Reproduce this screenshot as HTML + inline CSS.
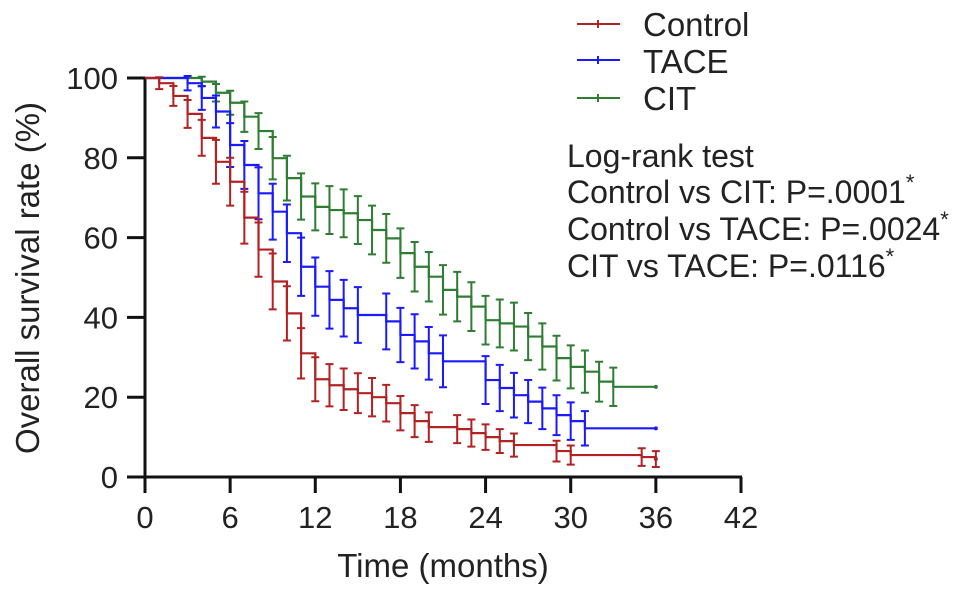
<!DOCTYPE html>
<html><head><meta charset="utf-8"><style>
html,body{margin:0;padding:0;background:#fff;}
svg{display:block;font-family:"Liberation Sans",Arial,sans-serif;}
</style></head><body>
<svg id="chart" width="969" height="595" viewBox="0 0 969 595">
<g id="axes"></g>
<g id="series"></g>
<g>
  <g>
    <line x1="577" y1="24" x2="620" y2="24" stroke="#b22222" stroke-width="2"/>
    <line x1="598" y1="20" x2="598" y2="28" stroke="#b22222" stroke-width="2"/>
    <text x="643" y="36" font-size="33" fill="#222">Control</text>
  </g>
  <g>
    <line x1="577" y1="60" x2="620" y2="60" stroke="#1a1aff" stroke-width="2"/>
    <line x1="598" y1="56" x2="598" y2="64" stroke="#1a1aff" stroke-width="2"/>
    <text x="643" y="73" font-size="33" fill="#222">TACE</text>
  </g>
  <g>
    <line x1="577" y1="98" x2="620" y2="98" stroke="#2e7d32" stroke-width="2"/>
    <line x1="598" y1="94" x2="598" y2="102" stroke="#2e7d32" stroke-width="2"/>
    <text x="643" y="110" font-size="33" fill="#222">CIT</text>
  </g>
</g>
<g font-size="32" fill="#222">
  <text x="567" y="167">Log-rank test</text>
  <text x="567" y="203">Control vs CIT: P=.0001<tspan font-size="22" dy="-13">*</tspan></text>
  <text x="567" y="240">Control vs TACE: P=.0024<tspan font-size="22" dy="-13">*</tspan></text>
  <text x="567" y="277">CIT vs TACE: P=.0116<tspan font-size="22" dy="-13">*</tspan></text>
</g>
</svg>
<script>
const xTicks = [0,6,12,18,24,30,36,42];
const yTicks = [0,20,40,60,80,100];
const controlTimes = [0,1,2,3,4,5,6,7,8,9,10,11,12,13,14,15,16,17,18,19,20,22,23,24,25,26,29,30,35,36];
const controlValues = [100,98.7,95.5,91,85,79,74,65,57,49,41,31,24.5,23,22,21,20,18.5,16,14,12.5,12,11,10,9,8,6.5,5.5,5,4.5];
const controlErr = [0,1.5,2.5,3.5,4.5,5.5,6,6.5,6.8,7,6.8,6.3,5.5,5.3,5.2,5,4.8,4.6,4.3,4,3.7,3.5,3.4,3.2,3,2.9,2.6,2.4,2.2,2];
const taceTimes = [0,3,4,5,6,7,8,9,10,11,12,13,14,15,17,18,19,20,21,24,25,26,27,28,29,30,31];
const taceValues = [100,98.7,95,91.6,83.2,78.2,71.1,66.5,61.1,52.7,47.7,44.4,42.3,40.6,39,35.6,34,31,29,24.3,22.3,20.5,18.9,17.2,15.5,14,12.2];
const taceErr = [0,1.8,3,4,5.5,6,6.5,7,7.2,7.3,7.3,7.2,7.1,7,7,6.8,6.8,6.6,6.5,6,5.8,5.6,5.4,5.2,5,4.7,4.3];
const citTimes = [0,4,5,6,7,8,9,10,11,12,13,14,15,16,17,18,19,20,21,22,23,24,25,26,27,28,29,30,31,32,33,36];
const citValues = [100,99.1,96.3,93.8,90.3,86.7,79.9,74.9,70.3,67.7,66.9,66.1,64.4,61.9,59.8,56.1,52.7,50.2,46.9,45.2,42.7,39.3,38.5,37.7,35.2,32.7,29.8,27.6,26.4,23.9,22.6,22.6];
const citErr = [0,1.2,2.2,3,3.8,4.5,5.3,5.6,5.8,5.9,6,6,6,6.1,6.1,6.2,6.2,6.2,6.2,6.2,6.1,6.1,6,6,5.9,5.8,5.6,5.4,5.3,5,4.8,0];

const X0=145, X1=741, Y0=477, Y1=78;
const xs = t => X0 + (t/42)*(X1-X0);
const ys = v => Y0 - (v/100)*(Y0-Y1);
const NS="http://www.w3.org/2000/svg";
function mk(tag, attrs, parent){const e=document.createElementNS(NS,tag);for(const k in attrs)e.setAttribute(k,attrs[k]);parent.appendChild(e);return e;}

const axes=document.getElementById('axes');
let yl=mk('line',{x1:X0,y1:Y1-1,x2:X0,y2:Y0+1,stroke:'#111','stroke-width':3},axes);


let xl=mk('line',{x1:X0-1,y1:Y0,x2:X1+1,y2:Y0,stroke:'#111','stroke-width':3},axes);


yTicks.forEach(v=>{
  mk('line',{x1:X0-18,y1:ys(v),x2:X0,y2:ys(v),stroke:'#111','stroke-width':3},axes);
  const t=mk('text',{x:X0-27,y:ys(v)+11,'font-size':31,'text-anchor':'end',fill:'#222'},axes);
  t.textContent=v;
  
  
});
xTicks.forEach(v=>{
  mk('line',{x1:xs(v),y1:Y0,x2:xs(v),y2:Y0+16,stroke:'#111','stroke-width':3},axes);
  const t=mk('text',{x:xs(v),y:528,'font-size':31,'text-anchor':'middle',fill:'#222'},axes);
  t.textContent=v;
  
  
});
const xt=mk('text',{x:443,y:577,'font-size':33,'text-anchor':'middle',fill:'#222'},axes);
xt.textContent='Time (months)';


const yt=mk('text',{x:0,y:0,'font-size':33,'text-anchor':'middle',fill:'#222',transform:'translate(39,278) rotate(-90)'},axes);
yt.textContent='Overall survival rate (%)';



function drawSeries(times, vals, errs, color, name, endT){
  const g=mk('g',{},document.getElementById('series'));
  
  
  let d='M'+xs(times[0])+','+ys(vals[0]);
  for(let i=1;i<times.length;i++){ d+=' H'+xs(times[i])+' V'+ys(vals[i]); }
  d+=' H'+xs(endT);
  mk('path',{d:d,fill:'none',stroke:color,'stroke-width':2.2},g);
  for(let i=1;i<times.length;i++){
    if(!errs[i]) continue;
    const x=xs(times[i]), lo=ys(vals[i]-errs[i]), hi=ys(vals[i]+errs[i]);
    const b=mk('path',{d:`M${x},${hi} V${lo} M${x-4},${hi} H${x+4} M${x-4},${lo} H${x+4}`,stroke:color,'stroke-width':2,fill:'none'},g);
    
    
  }
  const e=mk('circle',{cx:xs(endT),cy:ys(vals[vals.length-1]),r:2,fill:color},g);
  
  
}
drawSeries(citTimes,citValues,citErr,'#2e7d32','cit',36);
drawSeries(taceTimes,taceValues,taceErr,'#1a1aff','tace',36);
drawSeries(controlTimes,controlValues,controlErr,'#b22222','control',36);
</script>
</body></html>
